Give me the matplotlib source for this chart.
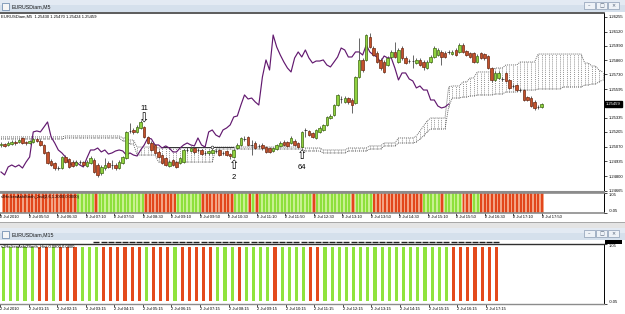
import numpy as np
import matplotlib
matplotlib.use("Agg")
from matplotlib import pyplot as plt
from matplotlib.patches import Rectangle
from matplotlib.transforms import blended_transform_factory

plt.rcParams['font.family'] = ['Liberation Sans', 'DejaVu Sans']

W, H = 625, 314

# ---- EURUSDiam M5 candles, bar 0 = 2 Jul 05:15, bar 151 = 2 Jul 17:50 ----
m5_open = [
    1.25085, 1.25094, 1.25085, 1.25094, 1.25112, 1.25112, 1.25149, 1.25112, 1.25103, 1.25112,
    1.25140, 1.25121, 1.25085, 1.25021, 1.24938, 1.24920, 1.24874, 1.24874, 1.24975, 1.24957,
    1.24929, 1.24902, 1.24929, 1.24929, 1.24893, 1.24920, 1.24948, 1.24902, 1.24829, 1.24874,
    1.24920, 1.24902, 1.24902, 1.24874, 1.24920, 1.24966, 1.25213, 1.25222, 1.25204, 1.25240,
    1.25249, 1.25158, 1.25103, 1.25085, 1.25021, 1.24993, 1.24966, 1.24893, 1.24948, 1.24929,
    1.24920, 1.24929, 1.25039, 1.25030, 1.25057, 1.25039, 1.25039, 1.25012, 1.25012, 1.25012,
    1.25030, 1.25039, 1.25012, 1.25030, 1.25002, 1.24975, 1.25057, 1.25085, 1.25140, 1.25158,
    1.25085, 1.25103, 1.25076, 1.25085, 1.25066, 1.25057, 1.25030, 1.25048, 1.25076, 1.25112,
    1.25112, 1.25103, 1.25121, 1.25103, 1.25066, 1.25222, 1.25213, 1.25194, 1.25149, 1.25204,
    1.25222, 1.25268, 1.25331, 1.25359, 1.25450, 1.25505, 1.25478, 1.25514, 1.25496, 1.25469,
    1.25706, 1.25862, 1.25862, 1.26072, 1.25971, 1.25926, 1.25862, 1.25843, 1.25816, 1.25889,
    1.25935, 1.25843, 1.25971, 1.25880, 1.25852, 1.25852, 1.25834, 1.25862, 1.25843, 1.25788,
    1.25843, 1.25889, 1.25907, 1.25935, 1.25926, 1.25935, 1.25916, 1.25953, 1.25935, 1.25999,
    1.25944, 1.25926, 1.25926, 1.25843, 1.25926, 1.25916, 1.25898, 1.25788, 1.25679, 1.25697,
    1.25688, 1.25743, 1.25679, 1.25624, 1.25633, 1.25587, 1.25587, 1.25523, 1.25514, 1.25478,
    1.25432, 1.25430]
m5_high = [
    1.25112, 1.25103, 1.25121, 1.25130, 1.25130, 1.25140, 1.25158, 1.25121, 1.25130, 1.25149,
    1.25149, 1.25140, 1.25094, 1.25030, 1.24957, 1.24929, 1.24893, 1.24984, 1.24993, 1.24966,
    1.24948, 1.24948, 1.24948, 1.24938, 1.24948, 1.24984, 1.24966, 1.24920, 1.24902, 1.24966,
    1.24938, 1.24948, 1.24920, 1.24948, 1.24984, 1.25213, 1.25286, 1.25240, 1.25268, 1.25313,
    1.25258, 1.25167, 1.25121, 1.25094, 1.25039, 1.25002, 1.24975, 1.24948, 1.24957, 1.24938,
    1.24975, 1.25048, 1.25066, 1.25076, 1.25066, 1.25057, 1.25048, 1.25030, 1.25039, 1.25048,
    1.25048, 1.25048, 1.25030, 1.25039, 1.25012, 1.25048, 1.25103, 1.25158, 1.25167, 1.25167,
    1.25130, 1.25121, 1.25094, 1.25103, 1.25076, 1.25066, 1.25066, 1.25094, 1.25121, 1.25130,
    1.25121, 1.25167, 1.25140, 1.25112, 1.25213, 1.25240, 1.25222, 1.25204, 1.25231, 1.25258,
    1.25277, 1.25350, 1.25368, 1.25459, 1.25551, 1.25533, 1.25533, 1.25523, 1.25514, 1.25715,
    1.26063, 1.25880, 1.26099, 1.26108, 1.25990, 1.25944, 1.25880, 1.25862, 1.25898, 1.25953,
    1.26026, 1.25971, 1.25990, 1.25898, 1.25871, 1.25907, 1.25880, 1.25880, 1.25862, 1.25862,
    1.25907, 1.25990, 1.25971, 1.25953, 1.25944, 1.25953, 1.25953, 1.25971, 1.26017, 1.26017,
    1.25953, 1.25935, 1.25935, 1.25916, 1.25935, 1.25926, 1.25907, 1.25798, 1.25761, 1.25761,
    1.25706, 1.25752, 1.25688, 1.25642, 1.25642, 1.25606, 1.25597, 1.25533, 1.25533, 1.25496,
    1.25450, 1.25470]
m5_low = [
    1.25066, 1.25066, 1.25076, 1.25085, 1.25085, 1.25103, 1.25094, 1.25085, 1.25094, 1.25103,
    1.25112, 1.25076, 1.25002, 1.24911, 1.24893, 1.24856, 1.24856, 1.24865, 1.24920, 1.24874,
    1.24884, 1.24893, 1.24911, 1.24893, 1.24884, 1.24911, 1.24829, 1.24792, 1.24811, 1.24856,
    1.24874, 1.24865, 1.24856, 1.24865, 1.24911, 1.24957, 1.25194, 1.25185, 1.25194, 1.25231,
    1.25149, 1.25094, 1.25030, 1.25002, 1.24966, 1.24911, 1.24893, 1.24884, 1.24893, 1.24874,
    1.24911, 1.24920, 1.25021, 1.25021, 1.25002, 1.25021, 1.24993, 1.24993, 1.24993, 1.25002,
    1.25012, 1.24984, 1.24993, 1.24984, 1.24957, 1.24966, 1.25048, 1.25076, 1.25121, 1.25076,
    1.24993, 1.25048, 1.25057, 1.25039, 1.25012, 1.25012, 1.25021, 1.25039, 1.25066, 1.25076,
    1.25066, 1.25094, 1.25076, 1.25057, 1.25057, 1.25158, 1.25167, 1.25149, 1.25140, 1.25194,
    1.25213, 1.25258, 1.25322, 1.25350, 1.25441, 1.25469, 1.25469, 1.25459, 1.25377, 1.25459,
    1.25697, 1.25752, 1.25852, 1.25971, 1.25898, 1.25834, 1.25770, 1.25743, 1.25807, 1.25880,
    1.25880, 1.25834, 1.25862, 1.25825, 1.25834, 1.25788, 1.25825, 1.25807, 1.25770, 1.25779,
    1.25834, 1.25880, 1.25898, 1.25816, 1.25880, 1.25916, 1.25907, 1.25898, 1.25926, 1.25926,
    1.25898, 1.25880, 1.25834, 1.25834, 1.25871, 1.25862, 1.25779, 1.25661, 1.25670, 1.25688,
    1.25670, 1.25661, 1.25597, 1.25606, 1.25578, 1.25569, 1.25487, 1.25487, 1.25432, 1.25405,
    1.25414, 1.25424]
m5_close = [
    1.25094, 1.25076, 1.25103, 1.25112, 1.25103, 1.25130, 1.25103, 1.25103, 1.25121, 1.25140,
    1.25121, 1.25085, 1.25012, 1.24920, 1.24902, 1.24874, 1.24874, 1.24975, 1.24929, 1.24884,
    1.24893, 1.24929, 1.24929, 1.24902, 1.24929, 1.24966, 1.24838, 1.24811, 1.24884, 1.24902,
    1.24884, 1.24902, 1.24874, 1.24929, 1.24975, 1.25204, 1.25213, 1.25204, 1.25249, 1.25295,
    1.25158, 1.25103, 1.25039, 1.25012, 1.24975, 1.24920, 1.24902, 1.24929, 1.24902, 1.24884,
    1.24966, 1.25039, 1.25039, 1.25057, 1.25021, 1.25039, 1.25002, 1.25012, 1.25030, 1.25039,
    1.25030, 1.24993, 1.25012, 1.24993, 1.24984, 1.25039, 1.25085, 1.25149, 1.25140, 1.25085,
    1.25085, 1.25057, 1.25076, 1.25057, 1.25021, 1.25021, 1.25057, 1.25085, 1.25103, 1.25085,
    1.25076, 1.25149, 1.25085, 1.25066, 1.25204, 1.25222, 1.25176, 1.25158, 1.25222, 1.25240,
    1.25268, 1.25341, 1.25350, 1.25450, 1.25542, 1.25505, 1.25514, 1.25478, 1.25450, 1.25706,
    1.25862, 1.25770, 1.26090, 1.25980, 1.25907, 1.25843, 1.25788, 1.25752, 1.25880, 1.25935,
    1.25889, 1.25953, 1.25880, 1.25834, 1.25852, 1.25852, 1.25862, 1.25816, 1.25798, 1.25843,
    1.25889, 1.25971, 1.25953, 1.25889, 1.25889, 1.25935, 1.25935, 1.25907, 1.25999, 1.25935,
    1.25907, 1.25889, 1.25843, 1.25898, 1.25880, 1.25880, 1.25788, 1.25679, 1.25743, 1.25743,
    1.25688, 1.25670, 1.25606, 1.25624, 1.25587, 1.25587, 1.25496, 1.25496, 1.25441, 1.25423,
    1.25432, 1.25459]

# Ichimoku lagging span is the close drawn this many bars back
chikou_shift = 26

# Ichimoku cloud edges (run length: price, number of bars), bar 0 .. 168
cloud_top = [1.25158, 1.25167, 1.25149, 1.25130, 1.25066, 1.25057, 1.25066, 1.25057,
             1.25039, 1.25057, 1.25076, 1.25103, 1.25149, 1.25167, 1.25213, 1.25258,
             1.25304, 1.25331, 1.25615, 1.25624, 1.25661, 1.25697, 1.25752, 1.25788,
             1.25816, 1.25843, 1.25916, 1.25916, 1.25834, 1.25807, 1.25770, 1.25752]
cloud_bot = [1.25140, 1.25149, 1.25121, 1.25094, 1.24993, 1.24929, 1.25048, 1.25030,
             1.25012, 1.25030, 1.25048, 1.25076, 1.25103, 1.25112, 1.25140, 1.25167,
             1.25204, 1.25231, 1.25432, 1.25514, 1.25523, 1.25533, 1.25542, 1.25551,
             1.25569, 1.25587, 1.25597, 1.25615, 1.25633, 1.25642, 1.25661, 1.25679]
cloud_runs = [18, 16, 2, 2, 6, 16, 25, 5, 7, 6, 4, 4, 5, 1, 1, 1,
              1, 5, 1, 3, 2, 2, 5, 3, 4, 5, 7, 6, 2, 2, 1, 1]

# horizontal line object drawn on the chart
hline_level = 1.25066
hline_from, hline_to, hline_node = 45, 65, 59

# arrow marks: bar, label, direction
signals = [(40, '11', 'down'), (65, '2', 'up'), (84, '64', 'up')]

# HeikenAshi smoothed histogram direction, u = up, d = down
ha_m5 = ("ddddddddddddddddddddd" "uuuuuduuuuu" "uuuuuuuu" "ddddddddd" "uuuuuuu"
         "ddddddddd" "uuuudud" "uuuuuuuuuuuu" "uuud" "uuuuuuuuuud" "uuuuu"
         "dddddddddddddd" "uuuuuduuuuu" "ddduu" "dddddddddddddddddd")
ha_m15 = ("uuuuu" "dd" "u" "ddd" "uuu" "dddddd" "u" "ddd" "u" "ddddd" "uuu" "d"
          "uuuu" "d" "uuuu" "dd" "uuuuuuuuuuuuuuuuuu" "ddddddd")

price_ticks = [1.26255, 1.26120, 1.25990, 1.25860, 1.25730, 1.25595,
               1.25335, 1.25205, 1.25070, 1.24935, 1.24800, 1.24665]
last_price = 1.25459
header = "EURUSDiam,M5  1.25430 1.25470 1.25424 1.25459"

m5_labels = ["2 Jul 2010", "2 Jul 05:50", "2 Jul 06:30", "2 Jul 07:10", "2 Jul 07:50",
             "2 Jul 08:30", "2 Jul 09:10", "2 Jul 09:50", "2 Jul 10:30", "2 Jul 11:10",
             "2 Jul 11:50", "2 Jul 12:30", "2 Jul 13:10", "2 Jul 13:50", "2 Jul 14:30",
             "2 Jul 15:10", "2 Jul 15:50", "2 Jul 16:30", "2 Jul 17:10", "2 Jul 17:50"]
m15_labels = ["2 Jul 2010", "2 Jul 01:15", "2 Jul 02:15", "2 Jul 03:15", "2 Jul 04:15",
              "2 Jul 05:15", "2 Jul 06:15", "2 Jul 07:15", "2 Jul 08:15", "2 Jul 09:15",
              "2 Jul 10:15", "2 Jul 11:15", "2 Jul 12:15", "2 Jul 13:15", "2 Jul 14:15",
              "2 Jul 15:15", "2 Jul 16:15", "2 Jul 17:15"]
ind1_name = "s2HeikenAshiSmth_2nd(2,6,1.2000,0.0000)"
ind2_name = "s2HeikenAshi2Smth_Hist 0.0800,0.0800"

fig = plt.figure(figsize=(W / 100, H / 100), dpi=100)
fig.patch.set_facecolor('white')


def px_axes(x0, y0, x1, y1):
    return fig.add_axes([x0 / W, 1 - y1 / H, (x1 - x0) / W, (y1 - y0) / H])


def px_rect(x0, y0, x1, y1, **kw):
    fig.add_artist(Rectangle((x0 / W, 1 - y1 / H), (x1 - x0) / W, (y1 - y0) / H,
                             transform=fig.transFigure, **kw))


def title_bar(y0, text):
    px_rect(0, y0, W, y0 + 12, facecolor='#d5e0ec', edgecolor='none')
    px_rect(0, y0, W, y0 + 5, facecolor='#e3eaf3', edgecolor='none')
    px_rect(2, y0 + 3, 9, y0 + 10, facecolor='#f6f6f6', edgecolor='#5f7fa6', linewidth=0.5)
    fig.text(12 / W, 1 - (y0 + 6.5) / H, text, fontsize=3.8, va='center', color='#1a1a1a')
    for bx, glyph in zip((584, 596, 608), ('–', '□', '×')):
        px_rect(bx, y0 + 2, bx + 11, y0 + 9, facecolor='#eef2f7', edgecolor='#8b9cb3', linewidth=0.5)
        fig.text((bx + 5.5) / W, 1 - (y0 + 5.5) / H, glyph, fontsize=3.5, ha='center',
                 va='center', color='#4a5a70', family='DejaVu Sans')


def plain(axis, right='black'):
    axis.set_facecolor('white')
    axis.spines['left'].set_visible(False)
    axis.spines['right'].set_color(right)
    axis.spines['right'].set_linewidth(0.7)
    axis.yaxis.tick_right()
    axis.tick_params(axis='y', length=2, width=0.5, labelsize=3.0, pad=1.5)
    axis.tick_params(axis='x', length=2, width=0.5, labelbottom=False)


# ---------------- M5 window ----------------
title_bar(0, "EURUSDiam,M5")

o = np.array(m5_open)
hi_ = np.array(m5_high)
lo_ = np.array(m5_low)
c = np.array(m5_close)
x = np.arange(len(c))

ax = px_axes(0, 13, 604, 192)
plain(ax)
ax.set_xlim(-0.28, 168.4)
ax.set_ylim(1.24655, 1.26291)
ax.spines['top'].set_color('#404040')
ax.spines['top'].set_linewidth(1.2)
ax.spines['bottom'].set_color('#8c8c8c')
ax.spines['bottom'].set_linewidth(1.5)
ax.set_xticks([])
ax.set_yticks(price_ticks)
ax.set_yticklabels([f'{p:.5f}' for p in price_ticks])

# cloud: dotted vertical line per bar between the two spans
top = np.repeat(cloud_top, cloud_runs)
bot = np.repeat(cloud_bot, cloud_runs)
cx = np.arange(len(top))
ax.vlines(cx, bot, top, colors='#6e6e6e', linewidth=0.5, linestyles=(0, (1.5, 1.5)), zorder=2)
ax.plot(cx, top, color='#555555', lw=0.6, ls=(0, (1.2, 1.2)), zorder=2)
ax.plot(cx, bot, color='#555555', lw=0.6, ls=(0, (1.2, 1.2)), zorder=2)

# user line
ax.hlines(hline_level, hline_from, hline_to, color='#303030', lw=0.7, zorder=3)
ax.plot([hline_node], [hline_level], marker='o', ms=2, mfc='white', mec='#303030', mew=0.5, zorder=3)

# chikou span
ax.plot(x[:-chikou_shift], c[chikou_shift:], color='#62196f', lw=0.85, zorder=5)

# candles
up = c >= o
flat = c == o
face = np.where(up, '#8fd13f', '#c4512b')
edge = np.where(flat, '#1e1e1e', np.where(up, '#3f6a12', '#6e2a14'))
ax.vlines(x, lo_, hi_, colors='#4d4d4d', linewidth=0.6, zorder=6)
ax.bar(x, c - o, bottom=o, width=0.7, color=face, edgecolor=edge, linewidth=0.5, zorder=7)

for i, label, kind in signals:
    if kind == 'down':
        ax.annotate('⇩', (i, hi_[i]), xytext=(0, 0), textcoords='offset pixels', ha='center',
                    va='bottom', fontsize=9, family='DejaVu Sans', zorder=8)
        ax.annotate(label, (i, hi_[i]), xytext=(0, 14), textcoords='offset pixels', ha='center',
                    va='bottom', fontsize=5.5, zorder=8)
    else:
        ax.annotate('⇧', (i, lo_[i]), xytext=(0, -1), textcoords='offset pixels', ha='center',
                    va='top', fontsize=9, family='DejaVu Sans', zorder=8)
        ax.annotate(label, (i, lo_[i]), xytext=(0, -16), textcoords='offset pixels', ha='center',
                    va='top', fontsize=5.5, zorder=8)

ax.text(0.002, 1 - 4 / 179, header, transform=ax.transAxes, fontsize=3.0, va='center')
tr = blended_transform_factory(ax.transAxes, ax.transData)
ax.text(1.003, last_price, f'{last_price:.5f}', transform=tr, fontsize=3.0, color='white',
        va='center', ha='left', clip_on=False, zorder=10,
        bbox=dict(boxstyle='square,pad=0.25', fc='black', ec='black'))

# HeikenAshi indicator pane (M5)
ax1 = px_axes(0, 193, 604, 213)
plain(ax1)
ax1.set_xlim(ax.get_xlim())
ax1.set_ylim(-0.05, 1.05)
for s in ('top', 'bottom'):
    ax1.spines[s].set_color('#8c8c8c')
    ax1.spines[s].set_linewidth(1.2)
ylo, yhi = ax1.get_ylim()
ups = np.array([ch == 'u' for ch in ha_m5])
ax1.bar(x, yhi - ylo, bottom=ylo, width=1.0, color=np.where(ups, '#c9f190', '#f3a384'), linewidth=0)
ax1.bar(x, yhi - ylo, bottom=ylo, width=0.55, color=np.where(ups, '#8ee03b', '#e2461b'), linewidth=0)
ax1.set_yticks([1.05, -0.05])
ax1.set_yticklabels(['1.05', '-0.05'])
ax1.get_yticklabels()[0].set_va('top')
ax1.get_yticklabels()[1].set_va('bottom')
ax1.text(0.002, 0.82, ind1_name, transform=ax1.transAxes, fontsize=3.0, va='center')
m5_pos = [8 * j - 1 for j in range(len(m5_labels))]
ax1.set_xticks(m5_pos)
tr1 = blended_transform_factory(ax1.transData, ax1.transAxes)
for pos, lab in zip(m5_pos, m5_labels):
    ax1.text(pos, -0.2, lab, transform=tr1, fontsize=3.0, ha='left', va='center', clip_on=False)

# frame between windows
px_rect(0, 222, W, 228, facecolor='#e4e4e4', edgecolor='none')
px_rect(0, 222, W, 223, facecolor='#a8a8a8', edgecolor='none')

# ---------------- M15 window ----------------
title_bar(228, "EURUSDiam,M15")

k = np.arange(len(ha_m15))
ax2 = px_axes(0, 244, 604, 304)
plain(ax2)
ax2.set_xlim(-0.42, 84.06)
ax2.set_ylim(-0.05, 1.05)
ax2.spines['top'].set_color('#303030')
ax2.spines['top'].set_linewidth(1.0)
ax2.spines['bottom'].set_color('#8c8c8c')
ax2.spines['bottom'].set_linewidth(1.0)
ups15 = np.array([ch == 'u' for ch in ha_m15])
ax2.bar(k, 1.0, width=0.44, color=np.where(ups15, '#8fe33d', '#e34a1c'), linewidth=0)
ax2.set_yticks([1.05, -0.05])
ax2.set_yticklabels(['1.05', '-0.05'])
ax2.get_yticklabels()[0].set_va('top')
ax2.get_yticklabels()[1].set_va('bottom')
ax2.text(0.002, 0.955, ind2_name, transform=ax2.transAxes, fontsize=3.0, va='center')
m15_pos = [4 * j - 0.5 for j in range(len(m15_labels))]
ax2.set_xticks(m15_pos)
tr2 = blended_transform_factory(ax2.transData, ax2.transAxes)
for pos, lab in zip(m15_pos, m15_labels):
    ax2.text(pos, -0.085, lab, transform=tr2, fontsize=3.0, ha='left', va='center', clip_on=False)

# collapsed M15 price pane: candles squeezed into a dashed strip
axp = px_axes(0, 240, 604, 244)
axp.set_xlim(ax2.get_xlim())
axp.set_ylim(0, 1)
axp.axis('off')
axp.plot(k[13:], np.full(len(k[13:]), 0.5), ls='none', marker='_', ms=4, mew=1.0, color='#202020')
px_rect(605, 240, 622, 244, facecolor='black', edgecolor='none')

fig.savefig('out.png', dpi=100, facecolor='white')
